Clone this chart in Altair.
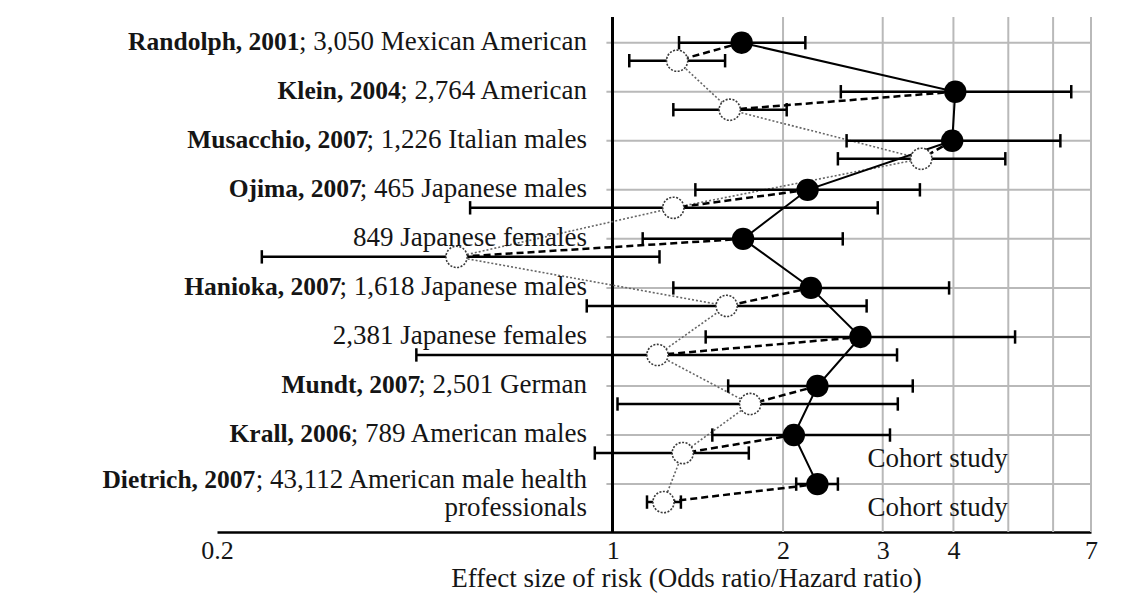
import glob
import math
import os
import struct

import altair as alt
import pandas as pd

# ---------------- data ----------------
bold_parts = ["Randolph, 2001", "Klein, 2004", "Musacchio, 2007", "Ojima, 2007", "",
              "Hanioka, 2007", "", "Mundt, 2007", "Krall, 2006", "Dietrich, 2007"]
reg_parts = ["; 3,050 Mexican American", "; 2,764 American", "; 1,226 Italian males",
             "; 465 Japanese males", "849 Japanese females", "; 1,618 Japanese males",
             "2,381 Japanese females", "; 2,501 German", "; 789 American males",
             "; 43,112 American male health"]
second_line = ["", "", "", "", "", "", "", "", "", "professionals"]

# filled circles (solid series)
filled_or = [1.69, 4.03, 3.98, 2.21, 1.70, 2.24, 2.74, 2.30, 2.09, 2.30]
filled_lo = [1.31, 2.53, 2.59, 1.40, 1.13, 1.28, 1.46, 1.60, 1.50, 2.11]
filled_hi = [2.19, 6.46, 6.18, 3.49, 2.55, 3.93, 5.14, 3.39, 3.09, 2.50]
# open circles
open_or = [1.30, 1.61, 3.51, 1.28, 0.53, 1.59, 1.20, 1.75, 1.33, 1.23]
open_lo = [1.07, 1.28, 2.50, 0.56, 0.24, 0.90, 0.45, 1.02, 0.93, 1.15]
open_hi = [1.58, 2.03, 4.94, 2.94, 1.21, 2.81, 3.18, 3.19, 1.74, 1.32]

cohort_rows = [8, 9]
cohort_text = ["Cohort study", "Cohort study"]

x_ticks = [0.2, 1, 2, 3, 4, 7]
grid_x = [2, 3, 4, 5, 6, 7]
x_title = "Effect size of risk (Odds ratio/Hazard ratio)"

# ---------------- layout ----------------
W, H = 874, 515
X_MIN, X_MAX = 0.2, 7
Y_DOM = [-0.524, 9.977]
OPEN_OFF = 0.367
FONT = "Liberation Serif"
FS = 27          # regular label text
FS_B = 25.5      # bold study names
FS_AX = 26       # tick labels
LABEL_RIGHT_PX = 370
JOIN_PX = 2      # tighten bold/regular junction
INK = "#151515"
GRID = "#b9b9b9"


# ---------------- text width measurement (font metrics) ----------------
def _find_font(name):
    pats = ["/usr/share/fonts/**/" + name, "/usr/local/share/fonts/**/" + name,
            os.path.expanduser("~/.fonts/**/" + name),
            os.path.expanduser("~/.local/share/fonts/**/" + name)]
    for p in pats:
        hits = glob.glob(p, recursive=True)
        if hits:
            return hits[0]
    return None


def _ttf_measurer(path):
    data = open(path, "rb").read()
    ntab = struct.unpack(">H", data[4:6])[0]
    tabs = {}
    for i in range(ntab):
        tag, _cs, off, ln = struct.unpack(">4sIII", data[12 + 16 * i:28 + 16 * i])
        tabs[tag.decode("latin1")] = off
    head = tabs["head"]
    upem = struct.unpack(">H", data[head + 18:head + 20])[0]
    hhea = tabs["hhea"]
    nhm = struct.unpack(">H", data[hhea + 34:hhea + 36])[0]
    hmtx = tabs["hmtx"]
    adv = [struct.unpack(">H", data[hmtx + 4 * i:hmtx + 4 * i + 2])[0] for i in range(nhm)]
    cmap = tabs["cmap"]
    nsub = struct.unpack(">H", data[cmap + 2:cmap + 4])[0]
    seginfo = None
    for i in range(nsub):
        pid, eid, off = struct.unpack(">HHI", data[cmap + 4 + 8 * i:cmap + 12 + 8 * i])
        st = cmap + off
        fmt = struct.unpack(">H", data[st:st + 2])[0]
        if fmt == 4 and (pid == 3 or pid == 0):
            segx2 = struct.unpack(">H", data[st + 6:st + 8])[0]
            seg = segx2 // 2
            e_off = st + 14
            ends = struct.unpack(">%dH" % seg, data[e_off:e_off + segx2])
            s_off = e_off + segx2 + 2
            starts = struct.unpack(">%dH" % seg, data[s_off:s_off + segx2])
            d_off = s_off + segx2
            deltas = struct.unpack(">%dh" % seg, data[d_off:d_off + segx2])
            r_off = d_off + segx2
            ros = struct.unpack(">%dH" % seg, data[r_off:r_off + segx2])
            seginfo = (seg, ends, starts, deltas, ros, r_off)
            break
    if seginfo is None:
        raise ValueError("no cmap")
    seg, ends, starts, deltas, ros, r_off = seginfo

    def gid(c):
        for s in range(seg):
            if ends[s] >= c:
                if starts[s] > c:
                    return 0
                if ros[s] == 0:
                    return (c + deltas[s]) & 0xFFFF
                addr = r_off + 2 * s + ros[s] + 2 * (c - starts[s])
                g = struct.unpack(">H", data[addr:addr + 2])[0]
                return (g + deltas[s]) & 0xFFFF if g else 0
        return 0

    def width(text, size):
        tot = 0
        for ch in text:
            g = gid(ord(ch))
            tot += adv[min(g, nhm - 1)]
        return tot * size / upem
    return width


_TR = {" ": 250, ",": 250, ".": 250, ";": 278, "/": 278, "(": 333, ")": 333,
       "A": 722, "C": 667, "E": 611, "G": 722, "H": 722, "I": 333, "J": 389, "M": 889, "O": 722,
       "a": 444, "c": 444, "d": 500, "e": 444, "f": 333, "h": 500, "i": 278, "k": 500, "l": 278,
       "m": 778, "n": 500, "o": 500, "p": 500, "r": 333, "s": 389, "t": 278, "u": 500, "x": 500,
       "y": 500, "z": 444}


def _fallback_width(text, size):
    tot = 0
    for ch in text:
        tot += 500 if ch.isdigit() else _TR.get(ch, 500)
    return tot * size / 1000.0


try:
    _p = _find_font("LiberationSerif-Regular.ttf")
    measure_regular = _ttf_measurer(_p) if _p else _fallback_width
except Exception:
    measure_regular = _fallback_width


def px_to_x(px):
    lo, hi = math.log10(X_MIN), math.log10(X_MAX)
    return 10 ** (lo + px / W * (hi - lo))


# ---------------- tables ----------------
rows = list(range(len(reg_parts)))
df = pd.DataFrame({
    "row": rows,
    "row_o": [r + OPEN_OFF for r in rows],
    "f_or": filled_or, "f_lo": filled_lo, "f_hi": filled_hi,
    "o_or": open_or, "o_lo": open_lo, "o_hi": open_hi,
    "reg": reg_parts, "bold": bold_parts, "second": second_line,
})
df["bx"] = [px_to_x(LABEL_RIGHT_PX - measure_regular(t, FS) + JOIN_PX) for t in reg_parts]

caps = pd.DataFrame({
    "cx": filled_lo + filled_hi + open_lo + open_hi,
    "cy": rows + rows + list(df["row_o"]) + list(df["row_o"]),
})
one_line = df[df["second"] == ""]
two_line = df[df["second"] != ""]
cohort_df = pd.DataFrame({"row": [r + OPEN_OFF for r in cohort_rows], "txt": cohort_text})
vgrid_df = pd.DataFrame({"gx": grid_x})

# ---------------- scales / axes ----------------
xs = alt.Scale(type="log", domain=[X_MIN, X_MAX], nice=False)
ys = alt.Scale(domain=Y_DOM, reverse=True, nice=False, zero=False)
XA = alt.Axis(values=x_ticks, format="~g", grid=False, ticks=False, domain=True,
              domainColor="black", domainWidth=2.5, labelFont=FONT, labelFontSize=FS_AX,
              labelColor=INK, labelPadding=5, labelFlush=False, labelOverlap=False,
              title=x_title, titleFont=FONT, titleFontSize=FS, titleFontWeight="normal",
              titleColor=INK, titleX=469, titleY=46, titleBaseline="middle",
              titleAlign="center", titleAnchor="start")


def X(field):
    return alt.X(field, scale=xs, axis=XA)


def Y(field):
    return alt.Y(field, scale=ys, axis=None)


vgrid = alt.Chart(vgrid_df).mark_rule(color=GRID, strokeWidth=2).encode(x=X("gx:Q"))

hgrid = alt.Chart(df).mark_rule(color=GRID, strokeWidth=2).encode(
    x=alt.X(datum=0.975, scale=xs, axis=XA), x2=alt.X2(datum=X_MAX), y=Y("row:Q"))

yline = alt.Chart(vgrid_df).mark_rule(color="black", strokeWidth=2.5).encode(
    x=alt.X(datum=1, scale=xs, axis=XA))

open_line = alt.Chart(df).mark_line(color="#666666", strokeWidth=1.6, strokeDash=[2, 2]).encode(
    x=X("o_or:Q"), y=Y("row_o:Q"), order="row:Q")

ci_f = alt.Chart(df).mark_rule(color="black", strokeWidth=2.5).encode(
    x=X("f_lo:Q"), x2="f_hi:Q", y=Y("row:Q"))
ci_o = alt.Chart(df).mark_rule(color="black", strokeWidth=2.5).encode(
    x=X("o_lo:Q"), x2="o_hi:Q", y=Y("row_o:Q"))
cap = alt.Chart(caps).mark_point(shape="M0,-1L0,1", size=180, strokeWidth=2.5,
                                 color="black", filled=False, opacity=1).encode(
    x=X("cx:Q"), y=Y("cy:Q"))

conn = alt.Chart(df).mark_rule(color="black", strokeWidth=2.5, strokeDash=[7, 4]).encode(
    x=X("f_or:Q"), x2="o_or:Q", y=Y("row:Q"), y2="row_o:Q")

filled_line = alt.Chart(df).mark_line(color="black", strokeWidth=2).encode(
    x=X("f_or:Q"), y=Y("row:Q"), order="row:Q")

open_pts = alt.Chart(df).mark_circle(fill="white", stroke="#3a3a3a", strokeWidth=1.6,
                                     strokeDash=[2, 1.5], size=450, opacity=1).encode(
    x=X("o_or:Q"), y=Y("row_o:Q"))
filled_pts = alt.Chart(df).mark_circle(color="black", size=500, opacity=1).encode(
    x=X("f_or:Q"), y=Y("row:Q"))


def reg_text(data, dy):
    return alt.Chart(data).mark_text(align="right", baseline="middle", font=FONT, fontSize=FS,
                                     color=INK, dy=dy).encode(
        x=alt.value(LABEL_RIGHT_PX), y=Y("row:Q"), text="reg:N")


def bold_text(data, dy):
    return alt.Chart(data[data["bold"] != ""]).mark_text(
        align="right", baseline="middle", font=FONT, fontSize=FS_B, fontWeight="bold",
        color=INK, dy=dy).encode(x=X("bx:Q"), y=Y("row:Q"), text="bold:N")


txt_reg1 = reg_text(one_line, -1)
txt_bold1 = bold_text(one_line, -1)
txt_reg2 = reg_text(two_line, -4)
txt_bold2 = bold_text(two_line, -4)
txt_2 = alt.Chart(two_line).mark_text(align="right", baseline="middle", font=FONT,
                                      fontSize=FS, color=INK, dy=24).encode(
    x=alt.value(LABEL_RIGHT_PX), y=Y("row:Q"), text="second:N")
txt_cohort = alt.Chart(cohort_df).mark_text(align="left", baseline="middle", font=FONT,
                                            fontSize=FS, color=INK, dy=6).encode(
    x=alt.X(datum=2.82, scale=xs, axis=XA), y=Y("row:Q"), text="txt:N")

chart = alt.layer(
    vgrid, hgrid, yline, open_line, ci_f, ci_o, cap, conn, filled_line,
    open_pts, filled_pts, txt_reg1, txt_bold1, txt_reg2, txt_bold2, txt_2, txt_cohort
).properties(
    width=W, height=H,
    autosize=alt.AutoSizeParams(type="none"),
    padding={"left": 209, "top": 9, "right": 12, "bottom": 62},
    background="white",
).configure_view(stroke=None)

chart.save("out.html", embed_options={"renderer": "svg", "actions": False})
